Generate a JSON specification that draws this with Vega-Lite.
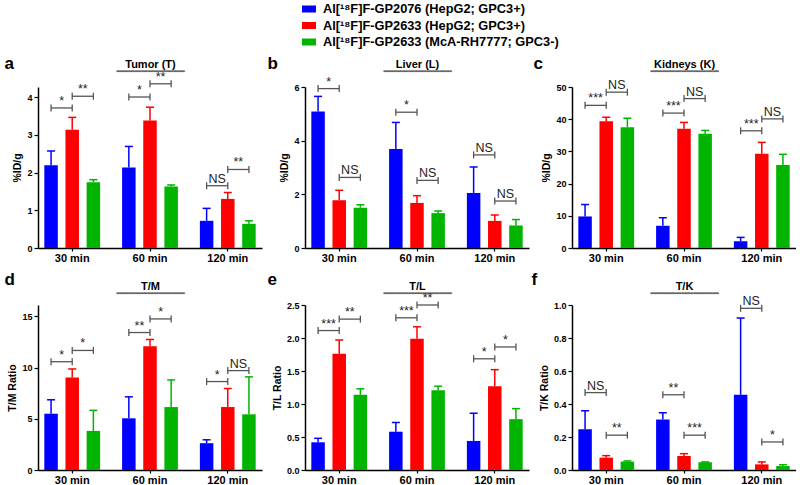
{
  "$schema": "https://vega.github.io/schema/vega-lite/v6.json",
  "padding": {"left": 4, "top": 2, "right": 0, "bottom": 0},
  "background": "white",
  "datasets": {
    "bars": [
      {"panel": "a", "time": "30 min", "series": "Al[¹⁸F]F-GP2076 (HepG2; GPC3+)", "mean": 2.19, "upper": 2.57},
      {"panel": "a", "time": "30 min", "series": "Al[¹⁸F]F-GP2633 (HepG2; GPC3+)", "mean": 3.13, "upper": 3.46},
      {"panel": "a", "time": "30 min", "series": "Al[¹⁸F]F-GP2633 (McA-RH7777; GPC3-)", "mean": 1.74, "upper": 1.81},
      {"panel": "a", "time": "60 min", "series": "Al[¹⁸F]F-GP2076 (HepG2; GPC3+)", "mean": 2.13, "upper": 2.69},
      {"panel": "a", "time": "60 min", "series": "Al[¹⁸F]F-GP2633 (HepG2; GPC3+)", "mean": 3.38, "upper": 3.73},
      {"panel": "a", "time": "60 min", "series": "Al[¹⁸F]F-GP2633 (McA-RH7777; GPC3-)", "mean": 1.63, "upper": 1.67},
      {"panel": "a", "time": "120 min", "series": "Al[¹⁸F]F-GP2076 (HepG2; GPC3+)", "mean": 0.72, "upper": 1.05},
      {"panel": "a", "time": "120 min", "series": "Al[¹⁸F]F-GP2633 (HepG2; GPC3+)", "mean": 1.30, "upper": 1.47},
      {"panel": "a", "time": "120 min", "series": "Al[¹⁸F]F-GP2633 (McA-RH7777; GPC3-)", "mean": 0.64, "upper": 0.72},
      {"panel": "b", "time": "30 min", "series": "Al[¹⁸F]F-GP2076 (HepG2; GPC3+)", "mean": 5.09, "upper": 5.65},
      {"panel": "b", "time": "30 min", "series": "Al[¹⁸F]F-GP2633 (HepG2; GPC3+)", "mean": 1.78, "upper": 2.15},
      {"panel": "b", "time": "30 min", "series": "Al[¹⁸F]F-GP2633 (McA-RH7777; GPC3-)", "mean": 1.50, "upper": 1.61},
      {"panel": "b", "time": "60 min", "series": "Al[¹⁸F]F-GP2076 (HepG2; GPC3+)", "mean": 3.69, "upper": 4.68},
      {"panel": "b", "time": "60 min", "series": "Al[¹⁸F]F-GP2633 (HepG2; GPC3+)", "mean": 1.68, "upper": 1.95},
      {"panel": "b", "time": "60 min", "series": "Al[¹⁸F]F-GP2633 (McA-RH7777; GPC3-)", "mean": 1.30, "upper": 1.38},
      {"panel": "b", "time": "120 min", "series": "Al[¹⁸F]F-GP2076 (HepG2; GPC3+)", "mean": 2.05, "upper": 3.02},
      {"panel": "b", "time": "120 min", "series": "Al[¹⁸F]F-GP2633 (HepG2; GPC3+)", "mean": 1.01, "upper": 1.23},
      {"panel": "b", "time": "120 min", "series": "Al[¹⁸F]F-GP2633 (McA-RH7777; GPC3-)", "mean": 0.84, "upper": 1.06},
      {"panel": "c", "time": "30 min", "series": "Al[¹⁸F]F-GP2076 (HepG2; GPC3+)", "mean": 9.8, "upper": 13.5},
      {"panel": "c", "time": "30 min", "series": "Al[¹⁸F]F-GP2633 (HepG2; GPC3+)", "mean": 39.4, "upper": 40.6},
      {"panel": "c", "time": "30 min", "series": "Al[¹⁸F]F-GP2633 (McA-RH7777; GPC3-)", "mean": 37.5, "upper": 40.3},
      {"panel": "c", "time": "60 min", "series": "Al[¹⁸F]F-GP2076 (HepG2; GPC3+)", "mean": 6.9, "upper": 9.4},
      {"panel": "c", "time": "60 min", "series": "Al[¹⁸F]F-GP2633 (HepG2; GPC3+)", "mean": 37.0, "upper": 39.0},
      {"panel": "c", "time": "60 min", "series": "Al[¹⁸F]F-GP2633 (McA-RH7777; GPC3-)", "mean": 35.5, "upper": 36.5},
      {"panel": "c", "time": "120 min", "series": "Al[¹⁸F]F-GP2076 (HepG2; GPC3+)", "mean": 2.1, "upper": 3.3},
      {"panel": "c", "time": "120 min", "series": "Al[¹⁸F]F-GP2633 (HepG2; GPC3+)", "mean": 29.3, "upper": 32.8},
      {"panel": "c", "time": "120 min", "series": "Al[¹⁸F]F-GP2633 (McA-RH7777; GPC3-)", "mean": 25.8, "upper": 29.1},
      {"panel": "d", "time": "30 min", "series": "Al[¹⁸F]F-GP2076 (HepG2; GPC3+)", "mean": 5.5, "upper": 6.86},
      {"panel": "d", "time": "30 min", "series": "Al[¹⁸F]F-GP2633 (HepG2; GPC3+)", "mean": 9.03, "upper": 9.87},
      {"panel": "d", "time": "30 min", "series": "Al[¹⁸F]F-GP2633 (McA-RH7777; GPC3-)", "mean": 3.82, "upper": 5.83},
      {"panel": "d", "time": "60 min", "series": "Al[¹⁸F]F-GP2076 (HepG2; GPC3+)", "mean": 5.05, "upper": 7.15},
      {"panel": "d", "time": "60 min", "series": "Al[¹⁸F]F-GP2633 (HepG2; GPC3+)", "mean": 12.1, "upper": 12.75},
      {"panel": "d", "time": "60 min", "series": "Al[¹⁸F]F-GP2633 (McA-RH7777; GPC3-)", "mean": 6.15, "upper": 8.8},
      {"panel": "d", "time": "120 min", "series": "Al[¹⁸F]F-GP2076 (HepG2; GPC3+)", "mean": 2.62, "upper": 2.95},
      {"panel": "d", "time": "120 min", "series": "Al[¹⁸F]F-GP2633 (HepG2; GPC3+)", "mean": 6.15, "upper": 7.96},
      {"panel": "d", "time": "120 min", "series": "Al[¹⁸F]F-GP2633 (McA-RH7777; GPC3-)", "mean": 5.44, "upper": 9.1},
      {"panel": "e", "time": "30 min", "series": "Al[¹⁸F]F-GP2076 (HepG2; GPC3+)", "mean": 0.42, "upper": 0.48},
      {"panel": "e", "time": "30 min", "series": "Al[¹⁸F]F-GP2633 (HepG2; GPC3+)", "mean": 1.76, "upper": 1.97},
      {"panel": "e", "time": "30 min", "series": "Al[¹⁸F]F-GP2633 (McA-RH7777; GPC3-)", "mean": 1.14, "upper": 1.23},
      {"panel": "e", "time": "60 min", "series": "Al[¹⁸F]F-GP2076 (HepG2; GPC3+)", "mean": 0.58, "upper": 0.72},
      {"panel": "e", "time": "60 min", "series": "Al[¹⁸F]F-GP2633 (HepG2; GPC3+)", "mean": 1.99, "upper": 2.17},
      {"panel": "e", "time": "60 min", "series": "Al[¹⁸F]F-GP2633 (McA-RH7777; GPC3-)", "mean": 1.21, "upper": 1.27},
      {"panel": "e", "time": "120 min", "series": "Al[¹⁸F]F-GP2076 (HepG2; GPC3+)", "mean": 0.44, "upper": 0.86},
      {"panel": "e", "time": "120 min", "series": "Al[¹⁸F]F-GP2633 (HepG2; GPC3+)", "mean": 1.27, "upper": 1.52},
      {"panel": "e", "time": "120 min", "series": "Al[¹⁸F]F-GP2633 (McA-RH7777; GPC3-)", "mean": 0.77, "upper": 0.93},
      {"panel": "f", "time": "30 min", "series": "Al[¹⁸F]F-GP2076 (HepG2; GPC3+)", "mean": 0.247, "upper": 0.359},
      {"panel": "f", "time": "30 min", "series": "Al[¹⁸F]F-GP2633 (HepG2; GPC3+)", "mean": 0.075, "upper": 0.087},
      {"panel": "f", "time": "30 min", "series": "Al[¹⁸F]F-GP2633 (McA-RH7777; GPC3-)", "mean": 0.051, "upper": 0.055},
      {"panel": "f", "time": "60 min", "series": "Al[¹⁸F]F-GP2076 (HepG2; GPC3+)", "mean": 0.306, "upper": 0.347},
      {"panel": "f", "time": "60 min", "series": "Al[¹⁸F]F-GP2633 (HepG2; GPC3+)", "mean": 0.085, "upper": 0.099},
      {"panel": "f", "time": "60 min", "series": "Al[¹⁸F]F-GP2633 (McA-RH7777; GPC3-)", "mean": 0.047, "upper": 0.049},
      {"panel": "f", "time": "120 min", "series": "Al[¹⁸F]F-GP2076 (HepG2; GPC3+)", "mean": 0.456, "upper": 0.921},
      {"panel": "f", "time": "120 min", "series": "Al[¹⁸F]F-GP2633 (HepG2; GPC3+)", "mean": 0.034, "upper": 0.049},
      {"panel": "f", "time": "120 min", "series": "Al[¹⁸F]F-GP2633 (McA-RH7777; GPC3-)", "mean": 0.024, "upper": 0.032}
    ],
    "brackets": [
      {"panel": "a", "time": "30 min", "from": "Al[¹⁸F]F-GP2076 (HepG2; GPC3+)", "to": "Al[¹⁸F]F-GP2633 (HepG2; GPC3+)", "mid": "m1", "y": 3.71, "label": "*"},
      {"panel": "a", "time": "30 min", "from": "Al[¹⁸F]F-GP2633 (HepG2; GPC3+)", "to": "Al[¹⁸F]F-GP2633 (McA-RH7777; GPC3-)", "mid": "m2", "y": 4.02, "label": "**"},
      {"panel": "a", "time": "60 min", "from": "Al[¹⁸F]F-GP2076 (HepG2; GPC3+)", "to": "Al[¹⁸F]F-GP2633 (HepG2; GPC3+)", "mid": "m1", "y": 4.0, "label": "*"},
      {"panel": "a", "time": "60 min", "from": "Al[¹⁸F]F-GP2633 (HepG2; GPC3+)", "to": "Al[¹⁸F]F-GP2633 (McA-RH7777; GPC3-)", "mid": "m2", "y": 4.35, "label": "**"},
      {"panel": "a", "time": "120 min", "from": "Al[¹⁸F]F-GP2076 (HepG2; GPC3+)", "to": "Al[¹⁸F]F-GP2633 (HepG2; GPC3+)", "mid": "m1", "y": 1.65, "label": "NS"},
      {"panel": "a", "time": "120 min", "from": "Al[¹⁸F]F-GP2633 (HepG2; GPC3+)", "to": "Al[¹⁸F]F-GP2633 (McA-RH7777; GPC3-)", "mid": "m2", "y": 2.08, "label": "**"},
      {"panel": "b", "time": "30 min", "from": "Al[¹⁸F]F-GP2076 (HepG2; GPC3+)", "to": "Al[¹⁸F]F-GP2633 (HepG2; GPC3+)", "mid": "m1", "y": 5.94, "label": "*"},
      {"panel": "b", "time": "30 min", "from": "Al[¹⁸F]F-GP2633 (HepG2; GPC3+)", "to": "Al[¹⁸F]F-GP2633 (McA-RH7777; GPC3-)", "mid": "m2", "y": 2.63, "label": "NS"},
      {"panel": "b", "time": "60 min", "from": "Al[¹⁸F]F-GP2076 (HepG2; GPC3+)", "to": "Al[¹⁸F]F-GP2633 (HepG2; GPC3+)", "mid": "m1", "y": 5.06, "label": "*"},
      {"panel": "b", "time": "60 min", "from": "Al[¹⁸F]F-GP2633 (HepG2; GPC3+)", "to": "Al[¹⁸F]F-GP2633 (McA-RH7777; GPC3-)", "mid": "m2", "y": 2.52, "label": "NS"},
      {"panel": "b", "time": "120 min", "from": "Al[¹⁸F]F-GP2076 (HepG2; GPC3+)", "to": "Al[¹⁸F]F-GP2633 (HepG2; GPC3+)", "mid": "m1", "y": 3.47, "label": "NS"},
      {"panel": "b", "time": "120 min", "from": "Al[¹⁸F]F-GP2633 (HepG2; GPC3+)", "to": "Al[¹⁸F]F-GP2633 (McA-RH7777; GPC3-)", "mid": "m2", "y": 1.75, "label": "NS"},
      {"panel": "c", "time": "30 min", "from": "Al[¹⁸F]F-GP2076 (HepG2; GPC3+)", "to": "Al[¹⁸F]F-GP2633 (HepG2; GPC3+)", "mid": "m1", "y": 44.3, "label": "***"},
      {"panel": "c", "time": "30 min", "from": "Al[¹⁸F]F-GP2633 (HepG2; GPC3+)", "to": "Al[¹⁸F]F-GP2633 (McA-RH7777; GPC3-)", "mid": "m2", "y": 48.4, "label": "NS"},
      {"panel": "c", "time": "60 min", "from": "Al[¹⁸F]F-GP2076 (HepG2; GPC3+)", "to": "Al[¹⁸F]F-GP2633 (HepG2; GPC3+)", "mid": "m1", "y": 41.9, "label": "***"},
      {"panel": "c", "time": "60 min", "from": "Al[¹⁸F]F-GP2633 (HepG2; GPC3+)", "to": "Al[¹⁸F]F-GP2633 (McA-RH7777; GPC3-)", "mid": "m2", "y": 46.4, "label": "NS"},
      {"panel": "c", "time": "120 min", "from": "Al[¹⁸F]F-GP2076 (HepG2; GPC3+)", "to": "Al[¹⁸F]F-GP2633 (HepG2; GPC3+)", "mid": "m1", "y": 36.4, "label": "***"},
      {"panel": "c", "time": "120 min", "from": "Al[¹⁸F]F-GP2633 (HepG2; GPC3+)", "to": "Al[¹⁸F]F-GP2633 (McA-RH7777; GPC3-)", "mid": "m2", "y": 40.1, "label": "NS"},
      {"panel": "d", "time": "30 min", "from": "Al[¹⁸F]F-GP2076 (HepG2; GPC3+)", "to": "Al[¹⁸F]F-GP2633 (HepG2; GPC3+)", "mid": "m1", "y": 10.58, "label": "*"},
      {"panel": "d", "time": "30 min", "from": "Al[¹⁸F]F-GP2633 (HepG2; GPC3+)", "to": "Al[¹⁸F]F-GP2633 (McA-RH7777; GPC3-)", "mid": "m2", "y": 11.68, "label": "*"},
      {"panel": "d", "time": "60 min", "from": "Al[¹⁸F]F-GP2076 (HepG2; GPC3+)", "to": "Al[¹⁸F]F-GP2633 (HepG2; GPC3+)", "mid": "m1", "y": 13.43, "label": "**"},
      {"panel": "d", "time": "60 min", "from": "Al[¹⁸F]F-GP2633 (HepG2; GPC3+)", "to": "Al[¹⁸F]F-GP2633 (McA-RH7777; GPC3-)", "mid": "m2", "y": 14.76, "label": "*"},
      {"panel": "d", "time": "120 min", "from": "Al[¹⁸F]F-GP2076 (HepG2; GPC3+)", "to": "Al[¹⁸F]F-GP2633 (HepG2; GPC3+)", "mid": "m1", "y": 8.64, "label": "*"},
      {"panel": "d", "time": "120 min", "from": "Al[¹⁸F]F-GP2633 (HepG2; GPC3+)", "to": "Al[¹⁸F]F-GP2633 (McA-RH7777; GPC3-)", "mid": "m2", "y": 9.71, "label": "NS"},
      {"panel": "e", "time": "30 min", "from": "Al[¹⁸F]F-GP2076 (HepG2; GPC3+)", "to": "Al[¹⁸F]F-GP2633 (HepG2; GPC3+)", "mid": "m1", "y": 2.113, "label": "***"},
      {"panel": "e", "time": "30 min", "from": "Al[¹⁸F]F-GP2633 (HepG2; GPC3+)", "to": "Al[¹⁸F]F-GP2633 (McA-RH7777; GPC3-)", "mid": "m2", "y": 2.286, "label": "**"},
      {"panel": "e", "time": "60 min", "from": "Al[¹⁸F]F-GP2076 (HepG2; GPC3+)", "to": "Al[¹⁸F]F-GP2633 (HepG2; GPC3+)", "mid": "m1", "y": 2.306, "label": "***"},
      {"panel": "e", "time": "60 min", "from": "Al[¹⁸F]F-GP2633 (HepG2; GPC3+)", "to": "Al[¹⁸F]F-GP2633 (McA-RH7777; GPC3-)", "mid": "m2", "y": 2.5, "label": "**"},
      {"panel": "e", "time": "120 min", "from": "Al[¹⁸F]F-GP2076 (HepG2; GPC3+)", "to": "Al[¹⁸F]F-GP2633 (HepG2; GPC3+)", "mid": "m1", "y": 1.685, "label": "*"},
      {"panel": "e", "time": "120 min", "from": "Al[¹⁸F]F-GP2633 (HepG2; GPC3+)", "to": "Al[¹⁸F]F-GP2633 (McA-RH7777; GPC3-)", "mid": "m2", "y": 1.864, "label": "*"},
      {"panel": "f", "time": "30 min", "from": "Al[¹⁸F]F-GP2076 (HepG2; GPC3+)", "to": "Al[¹⁸F]F-GP2633 (HepG2; GPC3+)", "mid": "m1", "y": 0.469, "label": "NS"},
      {"panel": "f", "time": "30 min", "from": "Al[¹⁸F]F-GP2633 (HepG2; GPC3+)", "to": "Al[¹⁸F]F-GP2633 (McA-RH7777; GPC3-)", "mid": "m2", "y": 0.211, "label": "**"},
      {"panel": "f", "time": "60 min", "from": "Al[¹⁸F]F-GP2076 (HepG2; GPC3+)", "to": "Al[¹⁸F]F-GP2633 (HepG2; GPC3+)", "mid": "m1", "y": 0.456, "label": "**"},
      {"panel": "f", "time": "60 min", "from": "Al[¹⁸F]F-GP2633 (HepG2; GPC3+)", "to": "Al[¹⁸F]F-GP2633 (McA-RH7777; GPC3-)", "mid": "m2", "y": 0.211, "label": "***"},
      {"panel": "f", "time": "120 min", "from": "Al[¹⁸F]F-GP2076 (HepG2; GPC3+)", "to": "Al[¹⁸F]F-GP2633 (HepG2; GPC3+)", "mid": "m1", "y": 0.98, "label": "NS"},
      {"panel": "f", "time": "120 min", "from": "Al[¹⁸F]F-GP2633 (HepG2; GPC3+)", "to": "Al[¹⁸F]F-GP2633 (McA-RH7777; GPC3-)", "mid": "m2", "y": 0.17, "label": "*"}
    ]
  },
  "vconcat": [
    {
      "bounds": "flush",
      "spacing": 43,
      "hconcat": [
        {
          "width": 224, "height": 161,
          "resolve": {"axis": {"x": "independent"}},
          "layer": [
            {"data": {"name": "bars"}, "transform": [{"filter": "datum.panel == 'a'"}],
             "mark": {"type": "bar", "width": 13.5},
             "encoding": {
               "x": {"field": "time", "type": "nominal", "scale": {"domain": ["30 min", "60 min", "120 min"], "paddingInner": 0.32, "paddingOuter": 0.1}, "axis": {"title": null}},
               "xOffset": {"field": "series", "type": "nominal", "scale": {"domain": ["Al[¹⁸F]F-GP2076 (HepG2; GPC3+)", "m1", "Al[¹⁸F]F-GP2633 (HepG2; GPC3+)", "m2", "Al[¹⁸F]F-GP2633 (McA-RH7777; GPC3-)"], "paddingInner": 0, "paddingOuter": 0}},
               "y": {"field": "mean", "type": "quantitative", "title": "%ID/g", "scale": {"domain": [0, 4.265], "nice": false}, "axis": {"values": [0, 1, 2, 3, 4], "tickCount": 10, "format": "d"}},
               "color": {"field": "series", "type": "nominal", "scale": {"domain": ["Al[¹⁸F]F-GP2076 (HepG2; GPC3+)", "Al[¹⁸F]F-GP2633 (HepG2; GPC3+)", "Al[¹⁸F]F-GP2633 (McA-RH7777; GPC3-)"], "range": ["#0000ff", "#ff0000", "#00b400"]},
                 "legend": {"orient": "none", "legendX": 264, "legendY": -85, "title": null, "padding": 0, "labelFont": "Liberation Sans", "labelFontWeight": "bold", "labelFontSize": 12.8, "labelColor": "#000000", "symbolType": "M-1,-0.5H1V0.5H-1Z", "symbolSize": 196, "symbolStrokeWidth": 0, "rowPadding": 2.5, "labelOffset": 7, "labelLimit": 400}}
             }},
            {"data": {"name": "bars"}, "transform": [{"filter": "datum.panel == 'a'"}],
             "mark": {"type": "rule", "strokeWidth": 1.5},
             "encoding": {
               "x": {"field": "time", "type": "nominal", "axis": {"orient": "top", "title": "a", "domain": false, "ticks": false, "labels": false, "titleX": -34, "titleY": -19, "titleAlign": "left", "titleBaseline": "alphabetic", "titleFontSize": 17}},
               "xOffset": {"field": "series", "type": "nominal"},
               "y": {"field": "mean", "type": "quantitative", "title": "%ID/g", "scale": {"domain": [0, 4.265], "nice": false}},
               "y2": {"field": "upper"},
               "stroke": {"field": "series", "type": "nominal", "scale": {"domain": ["Al[¹⁸F]F-GP2076 (HepG2; GPC3+)", "Al[¹⁸F]F-GP2633 (HepG2; GPC3+)", "Al[¹⁸F]F-GP2633 (McA-RH7777; GPC3-)"], "range": ["#0000ff", "#ff0000", "#00b400"]}, "legend": null}
             }},
            {"data": {"name": "bars"}, "transform": [{"filter": "datum.panel == 'a'"}],
             "mark": {"type": "point", "shape": "M-1,0H1", "size": 64, "strokeWidth": 1.5, "filled": false, "opacity": 1},
             "encoding": {
               "x": {"field": "time", "type": "nominal", "axis": {"orient": "top", "title": "Tumor (T)", "domain": false, "ticks": false, "labels": false, "titleX": 112, "titleY": -19.5, "titleAlign": "center", "titleBaseline": "alphabetic", "titleFontSize": 11}},
               "xOffset": {"field": "series", "type": "nominal"},
               "y": {"field": "upper", "type": "quantitative", "title": "%ID/g", "scale": {"domain": [0, 4.265], "nice": false}},
               "stroke": {"field": "series", "type": "nominal", "scale": {"domain": ["Al[¹⁸F]F-GP2076 (HepG2; GPC3+)", "Al[¹⁸F]F-GP2633 (HepG2; GPC3+)", "Al[¹⁸F]F-GP2633 (McA-RH7777; GPC3-)"], "range": ["#0000ff", "#ff0000", "#00b400"]}, "legend": null}
             }},
            {"data": {"name": "brackets"}, "transform": [{"filter": "datum.panel == 'a'"}, {"fold": ["from", "to"], "as": ["end", "series"]}],
             "mark": {"type": "line", "color": "#555555", "strokeWidth": 1.3},
             "encoding": {
               "x": {"field": "time", "type": "nominal", "axis": {"orient": "top", "title": "━━━━━━━━━━━", "domain": false, "ticks": false, "labels": false, "titleX": 112, "titleY": -12.4, "titleAlign": "center", "titleBaseline": "alphabetic", "titleFont": "DejaVu Sans", "titleFontWeight": "normal", "titleFontSize": 10.3, "titleColor": "#666666"}},
               "xOffset": {"field": "series", "type": "nominal"},
               "y": {"field": "y", "type": "quantitative", "title": "%ID/g", "scale": {"domain": [0, 4.265], "nice": false}},
               "detail": [{"field": "time"}, {"field": "mid"}]
             }},
            {"data": {"name": "brackets"}, "transform": [{"filter": "datum.panel == 'a'"}, {"fold": ["from", "to"], "as": ["end", "series"]}],
             "mark": {"type": "point", "shape": "M0,-1V1", "size": 49, "strokeWidth": 1.3, "color": "#555555", "filled": false, "opacity": 1},
             "encoding": {
               "x": {"field": "time", "type": "nominal", "axis": null},
               "xOffset": {"field": "series", "type": "nominal"},
               "y": {"field": "y", "type": "quantitative", "title": "%ID/g", "scale": {"domain": [0, 4.265], "nice": false}}
             }},
            {"data": {"name": "brackets"}, "transform": [{"filter": "datum.panel == 'a'"}],
             "mark": {"type": "text", "baseline": "alphabetic", "dy": -3, "fontSize": 12.5, "color": "#222222", "font": "Liberation Sans"},
             "encoding": {
               "x": {"field": "time", "type": "nominal", "axis": null},
               "xOffset": {"field": "mid", "type": "nominal"},
               "y": {"field": "y", "type": "quantitative", "title": "%ID/g", "scale": {"domain": [0, 4.265], "nice": false}},
               "text": {"field": "label"}
             }}
          ]
        },
        {
          "width": 224, "height": 161,
          "resolve": {"axis": {"x": "independent"}},
          "layer": [
            {"data": {"name": "bars"}, "transform": [{"filter": "datum.panel == 'b'"}],
             "mark": {"type": "bar", "width": 13.5},
             "encoding": {
               "x": {"field": "time", "type": "nominal", "scale": {"domain": ["30 min", "60 min", "120 min"], "paddingInner": 0.32, "paddingOuter": 0.1}, "axis": {"title": null}},
               "xOffset": {"field": "series", "type": "nominal", "scale": {"domain": ["Al[¹⁸F]F-GP2076 (HepG2; GPC3+)", "m1", "Al[¹⁸F]F-GP2633 (HepG2; GPC3+)", "m2", "Al[¹⁸F]F-GP2633 (McA-RH7777; GPC3-)"], "paddingInner": 0, "paddingOuter": 0}},
               "y": {"field": "mean", "type": "quantitative", "title": "%ID/g", "scale": {"domain": [0, 6], "nice": false}, "axis": {"values": [0, 2, 4, 6], "tickCount": 10, "format": "d"}},
               "color": {"field": "series", "type": "nominal", "scale": {"domain": ["Al[¹⁸F]F-GP2076 (HepG2; GPC3+)", "Al[¹⁸F]F-GP2633 (HepG2; GPC3+)", "Al[¹⁸F]F-GP2633 (McA-RH7777; GPC3-)"], "range": ["#0000ff", "#ff0000", "#00b400"]},
                 "legend": {"orient": "none", "legendX": 264, "legendY": -85, "title": null, "padding": 0, "labelFont": "Liberation Sans", "labelFontWeight": "bold", "labelFontSize": 12.8, "labelColor": "#000000", "symbolType": "M-1,-0.5H1V0.5H-1Z", "symbolSize": 196, "symbolStrokeWidth": 0, "rowPadding": 2.5, "labelOffset": 7, "labelLimit": 400}}
             }},
            {"data": {"name": "bars"}, "transform": [{"filter": "datum.panel == 'b'"}],
             "mark": {"type": "rule", "strokeWidth": 1.5},
             "encoding": {
               "x": {"field": "time", "type": "nominal", "axis": {"orient": "top", "title": "b", "domain": false, "ticks": false, "labels": false, "titleX": -38, "titleY": -19, "titleAlign": "left", "titleBaseline": "alphabetic", "titleFontSize": 17}},
               "xOffset": {"field": "series", "type": "nominal"},
               "y": {"field": "mean", "type": "quantitative", "title": "%ID/g", "scale": {"domain": [0, 6], "nice": false}},
               "y2": {"field": "upper"},
               "stroke": {"field": "series", "type": "nominal", "scale": {"domain": ["Al[¹⁸F]F-GP2076 (HepG2; GPC3+)", "Al[¹⁸F]F-GP2633 (HepG2; GPC3+)", "Al[¹⁸F]F-GP2633 (McA-RH7777; GPC3-)"], "range": ["#0000ff", "#ff0000", "#00b400"]}, "legend": null}
             }},
            {"data": {"name": "bars"}, "transform": [{"filter": "datum.panel == 'b'"}],
             "mark": {"type": "point", "shape": "M-1,0H1", "size": 64, "strokeWidth": 1.5, "filled": false, "opacity": 1},
             "encoding": {
               "x": {"field": "time", "type": "nominal", "axis": {"orient": "top", "title": "Liver (L)", "domain": false, "ticks": false, "labels": false, "titleX": 112, "titleY": -19.5, "titleAlign": "center", "titleBaseline": "alphabetic", "titleFontSize": 11}},
               "xOffset": {"field": "series", "type": "nominal"},
               "y": {"field": "upper", "type": "quantitative", "title": "%ID/g", "scale": {"domain": [0, 6], "nice": false}},
               "stroke": {"field": "series", "type": "nominal", "scale": {"domain": ["Al[¹⁸F]F-GP2076 (HepG2; GPC3+)", "Al[¹⁸F]F-GP2633 (HepG2; GPC3+)", "Al[¹⁸F]F-GP2633 (McA-RH7777; GPC3-)"], "range": ["#0000ff", "#ff0000", "#00b400"]}, "legend": null}
             }},
            {"data": {"name": "brackets"}, "transform": [{"filter": "datum.panel == 'b'"}, {"fold": ["from", "to"], "as": ["end", "series"]}],
             "mark": {"type": "line", "color": "#555555", "strokeWidth": 1.3},
             "encoding": {
               "x": {"field": "time", "type": "nominal", "axis": {"orient": "top", "title": "━━━━━━━━━━━", "domain": false, "ticks": false, "labels": false, "titleX": 112, "titleY": -12.4, "titleAlign": "center", "titleBaseline": "alphabetic", "titleFont": "DejaVu Sans", "titleFontWeight": "normal", "titleFontSize": 10.3, "titleColor": "#666666"}},
               "xOffset": {"field": "series", "type": "nominal"},
               "y": {"field": "y", "type": "quantitative", "title": "%ID/g", "scale": {"domain": [0, 6], "nice": false}},
               "detail": [{"field": "time"}, {"field": "mid"}]
             }},
            {"data": {"name": "brackets"}, "transform": [{"filter": "datum.panel == 'b'"}, {"fold": ["from", "to"], "as": ["end", "series"]}],
             "mark": {"type": "point", "shape": "M0,-1V1", "size": 49, "strokeWidth": 1.3, "color": "#555555", "filled": false, "opacity": 1},
             "encoding": {
               "x": {"field": "time", "type": "nominal", "axis": null},
               "xOffset": {"field": "series", "type": "nominal"},
               "y": {"field": "y", "type": "quantitative", "title": "%ID/g", "scale": {"domain": [0, 6], "nice": false}}
             }},
            {"data": {"name": "brackets"}, "transform": [{"filter": "datum.panel == 'b'"}],
             "mark": {"type": "text", "baseline": "alphabetic", "dy": -3, "fontSize": 12.5, "color": "#222222", "font": "Liberation Sans"},
             "encoding": {
               "x": {"field": "time", "type": "nominal", "axis": null},
               "xOffset": {"field": "mid", "type": "nominal"},
               "y": {"field": "y", "type": "quantitative", "title": "%ID/g", "scale": {"domain": [0, 6], "nice": false}},
               "text": {"field": "label"}
             }}
          ]
        },
        {
          "width": 224, "height": 161,
          "resolve": {"axis": {"x": "independent"}},
          "layer": [
            {"data": {"name": "bars"}, "transform": [{"filter": "datum.panel == 'c'"}],
             "mark": {"type": "bar", "width": 13.5},
             "encoding": {
               "x": {"field": "time", "type": "nominal", "scale": {"domain": ["30 min", "60 min", "120 min"], "paddingInner": 0.32, "paddingOuter": 0.1}, "axis": {"title": null}},
               "xOffset": {"field": "series", "type": "nominal", "scale": {"domain": ["Al[¹⁸F]F-GP2076 (HepG2; GPC3+)", "m1", "Al[¹⁸F]F-GP2633 (HepG2; GPC3+)", "m2", "Al[¹⁸F]F-GP2633 (McA-RH7777; GPC3-)"], "paddingInner": 0, "paddingOuter": 0}},
               "y": {"field": "mean", "type": "quantitative", "title": "%ID/g", "scale": {"domain": [0, 50], "nice": false}, "axis": {"values": [0, 10, 20, 30, 40, 50], "tickCount": 10, "format": "d"}},
               "color": {"field": "series", "type": "nominal", "scale": {"domain": ["Al[¹⁸F]F-GP2076 (HepG2; GPC3+)", "Al[¹⁸F]F-GP2633 (HepG2; GPC3+)", "Al[¹⁸F]F-GP2633 (McA-RH7777; GPC3-)"], "range": ["#0000ff", "#ff0000", "#00b400"]},
                 "legend": {"orient": "none", "legendX": 264, "legendY": -85, "title": null, "padding": 0, "labelFont": "Liberation Sans", "labelFontWeight": "bold", "labelFontSize": 12.8, "labelColor": "#000000", "symbolType": "M-1,-0.5H1V0.5H-1Z", "symbolSize": 196, "symbolStrokeWidth": 0, "rowPadding": 2.5, "labelOffset": 7, "labelLimit": 400}}
             }},
            {"data": {"name": "bars"}, "transform": [{"filter": "datum.panel == 'c'"}],
             "mark": {"type": "rule", "strokeWidth": 1.5},
             "encoding": {
               "x": {"field": "time", "type": "nominal", "axis": {"orient": "top", "title": "c", "domain": false, "ticks": false, "labels": false, "titleX": -39, "titleY": -19, "titleAlign": "left", "titleBaseline": "alphabetic", "titleFontSize": 17}},
               "xOffset": {"field": "series", "type": "nominal"},
               "y": {"field": "mean", "type": "quantitative", "title": "%ID/g", "scale": {"domain": [0, 50], "nice": false}},
               "y2": {"field": "upper"},
               "stroke": {"field": "series", "type": "nominal", "scale": {"domain": ["Al[¹⁸F]F-GP2076 (HepG2; GPC3+)", "Al[¹⁸F]F-GP2633 (HepG2; GPC3+)", "Al[¹⁸F]F-GP2633 (McA-RH7777; GPC3-)"], "range": ["#0000ff", "#ff0000", "#00b400"]}, "legend": null}
             }},
            {"data": {"name": "bars"}, "transform": [{"filter": "datum.panel == 'c'"}],
             "mark": {"type": "point", "shape": "M-1,0H1", "size": 64, "strokeWidth": 1.5, "filled": false, "opacity": 1},
             "encoding": {
               "x": {"field": "time", "type": "nominal", "axis": {"orient": "top", "title": "Kidneys (K)", "domain": false, "ticks": false, "labels": false, "titleX": 112, "titleY": -19.5, "titleAlign": "center", "titleBaseline": "alphabetic", "titleFontSize": 11}},
               "xOffset": {"field": "series", "type": "nominal"},
               "y": {"field": "upper", "type": "quantitative", "title": "%ID/g", "scale": {"domain": [0, 50], "nice": false}},
               "stroke": {"field": "series", "type": "nominal", "scale": {"domain": ["Al[¹⁸F]F-GP2076 (HepG2; GPC3+)", "Al[¹⁸F]F-GP2633 (HepG2; GPC3+)", "Al[¹⁸F]F-GP2633 (McA-RH7777; GPC3-)"], "range": ["#0000ff", "#ff0000", "#00b400"]}, "legend": null}
             }},
            {"data": {"name": "brackets"}, "transform": [{"filter": "datum.panel == 'c'"}, {"fold": ["from", "to"], "as": ["end", "series"]}],
             "mark": {"type": "line", "color": "#555555", "strokeWidth": 1.3},
             "encoding": {
               "x": {"field": "time", "type": "nominal", "axis": {"orient": "top", "title": "━━━━━━━━━━━", "domain": false, "ticks": false, "labels": false, "titleX": 112, "titleY": -12.4, "titleAlign": "center", "titleBaseline": "alphabetic", "titleFont": "DejaVu Sans", "titleFontWeight": "normal", "titleFontSize": 10.3, "titleColor": "#666666"}},
               "xOffset": {"field": "series", "type": "nominal"},
               "y": {"field": "y", "type": "quantitative", "title": "%ID/g", "scale": {"domain": [0, 50], "nice": false}},
               "detail": [{"field": "time"}, {"field": "mid"}]
             }},
            {"data": {"name": "brackets"}, "transform": [{"filter": "datum.panel == 'c'"}, {"fold": ["from", "to"], "as": ["end", "series"]}],
             "mark": {"type": "point", "shape": "M0,-1V1", "size": 49, "strokeWidth": 1.3, "color": "#555555", "filled": false, "opacity": 1},
             "encoding": {
               "x": {"field": "time", "type": "nominal", "axis": null},
               "xOffset": {"field": "series", "type": "nominal"},
               "y": {"field": "y", "type": "quantitative", "title": "%ID/g", "scale": {"domain": [0, 50], "nice": false}}
             }},
            {"data": {"name": "brackets"}, "transform": [{"filter": "datum.panel == 'c'"}],
             "mark": {"type": "text", "baseline": "alphabetic", "dy": -3, "fontSize": 12.5, "color": "#222222", "font": "Liberation Sans"},
             "encoding": {
               "x": {"field": "time", "type": "nominal", "axis": null},
               "xOffset": {"field": "mid", "type": "nominal"},
               "y": {"field": "y", "type": "quantitative", "title": "%ID/g", "scale": {"domain": [0, 50], "nice": false}},
               "text": {"field": "label"}
             }}
          ]
        }
      ]
    },
    {
      "bounds": "flush",
      "spacing": 43,
      "hconcat": [
        {
          "width": 224, "height": 165,
          "resolve": {"axis": {"x": "independent"}},
          "layer": [
            {"data": {"name": "bars"}, "transform": [{"filter": "datum.panel == 'd'"}],
             "mark": {"type": "bar", "width": 13.5},
             "encoding": {
               "x": {"field": "time", "type": "nominal", "scale": {"domain": ["30 min", "60 min", "120 min"], "paddingInner": 0.32, "paddingOuter": 0.1}, "axis": {"title": null}},
               "xOffset": {"field": "series", "type": "nominal", "scale": {"domain": ["Al[¹⁸F]F-GP2076 (HepG2; GPC3+)", "m1", "Al[¹⁸F]F-GP2633 (HepG2; GPC3+)", "m2", "Al[¹⁸F]F-GP2633 (McA-RH7777; GPC3-)"], "paddingInner": 0, "paddingOuter": 0}},
               "y": {"field": "mean", "type": "quantitative", "title": "T/M Ratio", "scale": {"domain": [0, 16.12], "nice": false}, "axis": {"values": [0, 5, 10, 15], "tickCount": 10, "format": "d"}},
               "color": {"field": "series", "type": "nominal", "scale": {"domain": ["Al[¹⁸F]F-GP2076 (HepG2; GPC3+)", "Al[¹⁸F]F-GP2633 (HepG2; GPC3+)", "Al[¹⁸F]F-GP2633 (McA-RH7777; GPC3-)"], "range": ["#0000ff", "#ff0000", "#00b400"]},
                 "legend": {"orient": "none", "legendX": 264, "legendY": -85, "title": null, "padding": 0, "labelFont": "Liberation Sans", "labelFontWeight": "bold", "labelFontSize": 12.8, "labelColor": "#000000", "symbolType": "M-1,-0.5H1V0.5H-1Z", "symbolSize": 196, "symbolStrokeWidth": 0, "rowPadding": 2.5, "labelOffset": 7, "labelLimit": 400}}
             }},
            {"data": {"name": "bars"}, "transform": [{"filter": "datum.panel == 'd'"}],
             "mark": {"type": "rule", "strokeWidth": 1.5},
             "encoding": {
               "x": {"field": "time", "type": "nominal", "axis": {"orient": "top", "title": "d", "domain": false, "ticks": false, "labels": false, "titleX": -34, "titleY": -21, "titleAlign": "left", "titleBaseline": "alphabetic", "titleFontSize": 17}},
               "xOffset": {"field": "series", "type": "nominal"},
               "y": {"field": "mean", "type": "quantitative", "title": "T/M Ratio", "scale": {"domain": [0, 16.12], "nice": false}},
               "y2": {"field": "upper"},
               "stroke": {"field": "series", "type": "nominal", "scale": {"domain": ["Al[¹⁸F]F-GP2076 (HepG2; GPC3+)", "Al[¹⁸F]F-GP2633 (HepG2; GPC3+)", "Al[¹⁸F]F-GP2633 (McA-RH7777; GPC3-)"], "range": ["#0000ff", "#ff0000", "#00b400"]}, "legend": null}
             }},
            {"data": {"name": "bars"}, "transform": [{"filter": "datum.panel == 'd'"}],
             "mark": {"type": "point", "shape": "M-1,0H1", "size": 64, "strokeWidth": 1.5, "filled": false, "opacity": 1},
             "encoding": {
               "x": {"field": "time", "type": "nominal", "axis": {"orient": "top", "title": "T/M", "domain": false, "ticks": false, "labels": false, "titleX": 112, "titleY": -16, "titleAlign": "center", "titleBaseline": "alphabetic", "titleFontSize": 11}},
               "xOffset": {"field": "series", "type": "nominal"},
               "y": {"field": "upper", "type": "quantitative", "title": "T/M Ratio", "scale": {"domain": [0, 16.12], "nice": false}},
               "stroke": {"field": "series", "type": "nominal", "scale": {"domain": ["Al[¹⁸F]F-GP2076 (HepG2; GPC3+)", "Al[¹⁸F]F-GP2633 (HepG2; GPC3+)", "Al[¹⁸F]F-GP2633 (McA-RH7777; GPC3-)"], "range": ["#0000ff", "#ff0000", "#00b400"]}, "legend": null}
             }},
            {"data": {"name": "brackets"}, "transform": [{"filter": "datum.panel == 'd'"}, {"fold": ["from", "to"], "as": ["end", "series"]}],
             "mark": {"type": "line", "color": "#555555", "strokeWidth": 1.3},
             "encoding": {
               "x": {"field": "time", "type": "nominal", "axis": {"orient": "top", "title": "━━━━━━━━━━━", "domain": false, "ticks": false, "labels": false, "titleX": 112, "titleY": -8.7, "titleAlign": "center", "titleBaseline": "alphabetic", "titleFont": "DejaVu Sans", "titleFontWeight": "normal", "titleFontSize": 10.3, "titleColor": "#666666"}},
               "xOffset": {"field": "series", "type": "nominal"},
               "y": {"field": "y", "type": "quantitative", "title": "T/M Ratio", "scale": {"domain": [0, 16.12], "nice": false}},
               "detail": [{"field": "time"}, {"field": "mid"}]
             }},
            {"data": {"name": "brackets"}, "transform": [{"filter": "datum.panel == 'd'"}, {"fold": ["from", "to"], "as": ["end", "series"]}],
             "mark": {"type": "point", "shape": "M0,-1V1", "size": 49, "strokeWidth": 1.3, "color": "#555555", "filled": false, "opacity": 1},
             "encoding": {
               "x": {"field": "time", "type": "nominal", "axis": null},
               "xOffset": {"field": "series", "type": "nominal"},
               "y": {"field": "y", "type": "quantitative", "title": "T/M Ratio", "scale": {"domain": [0, 16.12], "nice": false}}
             }},
            {"data": {"name": "brackets"}, "transform": [{"filter": "datum.panel == 'd'"}],
             "mark": {"type": "text", "baseline": "alphabetic", "dy": -3, "fontSize": 12.5, "color": "#222222", "font": "Liberation Sans"},
             "encoding": {
               "x": {"field": "time", "type": "nominal", "axis": null},
               "xOffset": {"field": "mid", "type": "nominal"},
               "y": {"field": "y", "type": "quantitative", "title": "T/M Ratio", "scale": {"domain": [0, 16.12], "nice": false}},
               "text": {"field": "label"}
             }}
          ]
        },
        {
          "width": 224, "height": 165,
          "resolve": {"axis": {"x": "independent"}},
          "layer": [
            {"data": {"name": "bars"}, "transform": [{"filter": "datum.panel == 'e'"}],
             "mark": {"type": "bar", "width": 13.5},
             "encoding": {
               "x": {"field": "time", "type": "nominal", "scale": {"domain": ["30 min", "60 min", "120 min"], "paddingInner": 0.32, "paddingOuter": 0.1}, "axis": {"title": null}},
               "xOffset": {"field": "series", "type": "nominal", "scale": {"domain": ["Al[¹⁸F]F-GP2076 (HepG2; GPC3+)", "m1", "Al[¹⁸F]F-GP2633 (HepG2; GPC3+)", "m2", "Al[¹⁸F]F-GP2633 (McA-RH7777; GPC3-)"], "paddingInner": 0, "paddingOuter": 0}},
               "y": {"field": "mean", "type": "quantitative", "title": "T/L Ratio", "scale": {"domain": [0, 2.5], "nice": false}, "axis": {"values": [0, 0.5, 1, 1.5, 2, 2.5], "format": ".1f", "tickCount": 10}},
               "color": {"field": "series", "type": "nominal", "scale": {"domain": ["Al[¹⁸F]F-GP2076 (HepG2; GPC3+)", "Al[¹⁸F]F-GP2633 (HepG2; GPC3+)", "Al[¹⁸F]F-GP2633 (McA-RH7777; GPC3-)"], "range": ["#0000ff", "#ff0000", "#00b400"]},
                 "legend": {"orient": "none", "legendX": 264, "legendY": -85, "title": null, "padding": 0, "labelFont": "Liberation Sans", "labelFontWeight": "bold", "labelFontSize": 12.8, "labelColor": "#000000", "symbolType": "M-1,-0.5H1V0.5H-1Z", "symbolSize": 196, "symbolStrokeWidth": 0, "rowPadding": 2.5, "labelOffset": 7, "labelLimit": 400}}
             }},
            {"data": {"name": "bars"}, "transform": [{"filter": "datum.panel == 'e'"}],
             "mark": {"type": "rule", "strokeWidth": 1.5},
             "encoding": {
               "x": {"field": "time", "type": "nominal", "axis": {"orient": "top", "title": "e", "domain": false, "ticks": false, "labels": false, "titleX": -38, "titleY": -21, "titleAlign": "left", "titleBaseline": "alphabetic", "titleFontSize": 17}},
               "xOffset": {"field": "series", "type": "nominal"},
               "y": {"field": "mean", "type": "quantitative", "title": "T/L Ratio", "scale": {"domain": [0, 2.5], "nice": false}},
               "y2": {"field": "upper"},
               "stroke": {"field": "series", "type": "nominal", "scale": {"domain": ["Al[¹⁸F]F-GP2076 (HepG2; GPC3+)", "Al[¹⁸F]F-GP2633 (HepG2; GPC3+)", "Al[¹⁸F]F-GP2633 (McA-RH7777; GPC3-)"], "range": ["#0000ff", "#ff0000", "#00b400"]}, "legend": null}
             }},
            {"data": {"name": "bars"}, "transform": [{"filter": "datum.panel == 'e'"}],
             "mark": {"type": "point", "shape": "M-1,0H1", "size": 64, "strokeWidth": 1.5, "filled": false, "opacity": 1},
             "encoding": {
               "x": {"field": "time", "type": "nominal", "axis": {"orient": "top", "title": "T/L", "domain": false, "ticks": false, "labels": false, "titleX": 112, "titleY": -16, "titleAlign": "center", "titleBaseline": "alphabetic", "titleFontSize": 11}},
               "xOffset": {"field": "series", "type": "nominal"},
               "y": {"field": "upper", "type": "quantitative", "title": "T/L Ratio", "scale": {"domain": [0, 2.5], "nice": false}},
               "stroke": {"field": "series", "type": "nominal", "scale": {"domain": ["Al[¹⁸F]F-GP2076 (HepG2; GPC3+)", "Al[¹⁸F]F-GP2633 (HepG2; GPC3+)", "Al[¹⁸F]F-GP2633 (McA-RH7777; GPC3-)"], "range": ["#0000ff", "#ff0000", "#00b400"]}, "legend": null}
             }},
            {"data": {"name": "brackets"}, "transform": [{"filter": "datum.panel == 'e'"}, {"fold": ["from", "to"], "as": ["end", "series"]}],
             "mark": {"type": "line", "color": "#555555", "strokeWidth": 1.3},
             "encoding": {
               "x": {"field": "time", "type": "nominal", "axis": {"orient": "top", "title": "━━━━━━━━━━━", "domain": false, "ticks": false, "labels": false, "titleX": 112, "titleY": -8.7, "titleAlign": "center", "titleBaseline": "alphabetic", "titleFont": "DejaVu Sans", "titleFontWeight": "normal", "titleFontSize": 10.3, "titleColor": "#666666"}},
               "xOffset": {"field": "series", "type": "nominal"},
               "y": {"field": "y", "type": "quantitative", "title": "T/L Ratio", "scale": {"domain": [0, 2.5], "nice": false}},
               "detail": [{"field": "time"}, {"field": "mid"}]
             }},
            {"data": {"name": "brackets"}, "transform": [{"filter": "datum.panel == 'e'"}, {"fold": ["from", "to"], "as": ["end", "series"]}],
             "mark": {"type": "point", "shape": "M0,-1V1", "size": 49, "strokeWidth": 1.3, "color": "#555555", "filled": false, "opacity": 1},
             "encoding": {
               "x": {"field": "time", "type": "nominal", "axis": null},
               "xOffset": {"field": "series", "type": "nominal"},
               "y": {"field": "y", "type": "quantitative", "title": "T/L Ratio", "scale": {"domain": [0, 2.5], "nice": false}}
             }},
            {"data": {"name": "brackets"}, "transform": [{"filter": "datum.panel == 'e'"}],
             "mark": {"type": "text", "baseline": "alphabetic", "dy": -3, "fontSize": 12.5, "color": "#222222", "font": "Liberation Sans"},
             "encoding": {
               "x": {"field": "time", "type": "nominal", "axis": null},
               "xOffset": {"field": "mid", "type": "nominal"},
               "y": {"field": "y", "type": "quantitative", "title": "T/L Ratio", "scale": {"domain": [0, 2.5], "nice": false}},
               "text": {"field": "label"}
             }}
          ]
        },
        {
          "width": 224, "height": 165,
          "resolve": {"axis": {"x": "independent"}},
          "layer": [
            {"data": {"name": "bars"}, "transform": [{"filter": "datum.panel == 'f'"}],
             "mark": {"type": "bar", "width": 13.5},
             "encoding": {
               "x": {"field": "time", "type": "nominal", "scale": {"domain": ["30 min", "60 min", "120 min"], "paddingInner": 0.32, "paddingOuter": 0.1}, "axis": {"title": null}},
               "xOffset": {"field": "series", "type": "nominal", "scale": {"domain": ["Al[¹⁸F]F-GP2076 (HepG2; GPC3+)", "m1", "Al[¹⁸F]F-GP2633 (HepG2; GPC3+)", "m2", "Al[¹⁸F]F-GP2633 (McA-RH7777; GPC3-)"], "paddingInner": 0, "paddingOuter": 0}},
               "y": {"field": "mean", "type": "quantitative", "title": "T/K Ratio", "scale": {"domain": [0, 1], "nice": false}, "axis": {"values": [0, 0.2, 0.4, 0.6, 0.8, 1], "format": ".1f", "tickCount": 10}},
               "color": {"field": "series", "type": "nominal", "scale": {"domain": ["Al[¹⁸F]F-GP2076 (HepG2; GPC3+)", "Al[¹⁸F]F-GP2633 (HepG2; GPC3+)", "Al[¹⁸F]F-GP2633 (McA-RH7777; GPC3-)"], "range": ["#0000ff", "#ff0000", "#00b400"]},
                 "legend": {"orient": "none", "legendX": 264, "legendY": -85, "title": null, "padding": 0, "labelFont": "Liberation Sans", "labelFontWeight": "bold", "labelFontSize": 12.8, "labelColor": "#000000", "symbolType": "M-1,-0.5H1V0.5H-1Z", "symbolSize": 196, "symbolStrokeWidth": 0, "rowPadding": 2.5, "labelOffset": 7, "labelLimit": 400}}
             }},
            {"data": {"name": "bars"}, "transform": [{"filter": "datum.panel == 'f'"}],
             "mark": {"type": "rule", "strokeWidth": 1.5},
             "encoding": {
               "x": {"field": "time", "type": "nominal", "axis": {"orient": "top", "title": "f", "domain": false, "ticks": false, "labels": false, "titleX": -41, "titleY": -21, "titleAlign": "left", "titleBaseline": "alphabetic", "titleFontSize": 17}},
               "xOffset": {"field": "series", "type": "nominal"},
               "y": {"field": "mean", "type": "quantitative", "title": "T/K Ratio", "scale": {"domain": [0, 1], "nice": false}},
               "y2": {"field": "upper"},
               "stroke": {"field": "series", "type": "nominal", "scale": {"domain": ["Al[¹⁸F]F-GP2076 (HepG2; GPC3+)", "Al[¹⁸F]F-GP2633 (HepG2; GPC3+)", "Al[¹⁸F]F-GP2633 (McA-RH7777; GPC3-)"], "range": ["#0000ff", "#ff0000", "#00b400"]}, "legend": null}
             }},
            {"data": {"name": "bars"}, "transform": [{"filter": "datum.panel == 'f'"}],
             "mark": {"type": "point", "shape": "M-1,0H1", "size": 64, "strokeWidth": 1.5, "filled": false, "opacity": 1},
             "encoding": {
               "x": {"field": "time", "type": "nominal", "axis": {"orient": "top", "title": "T/K", "domain": false, "ticks": false, "labels": false, "titleX": 112, "titleY": -16, "titleAlign": "center", "titleBaseline": "alphabetic", "titleFontSize": 11}},
               "xOffset": {"field": "series", "type": "nominal"},
               "y": {"field": "upper", "type": "quantitative", "title": "T/K Ratio", "scale": {"domain": [0, 1], "nice": false}},
               "stroke": {"field": "series", "type": "nominal", "scale": {"domain": ["Al[¹⁸F]F-GP2076 (HepG2; GPC3+)", "Al[¹⁸F]F-GP2633 (HepG2; GPC3+)", "Al[¹⁸F]F-GP2633 (McA-RH7777; GPC3-)"], "range": ["#0000ff", "#ff0000", "#00b400"]}, "legend": null}
             }},
            {"data": {"name": "brackets"}, "transform": [{"filter": "datum.panel == 'f'"}, {"fold": ["from", "to"], "as": ["end", "series"]}],
             "mark": {"type": "line", "color": "#555555", "strokeWidth": 1.3},
             "encoding": {
               "x": {"field": "time", "type": "nominal", "axis": {"orient": "top", "title": "━━━━━━━━━━━", "domain": false, "ticks": false, "labels": false, "titleX": 112, "titleY": -8.7, "titleAlign": "center", "titleBaseline": "alphabetic", "titleFont": "DejaVu Sans", "titleFontWeight": "normal", "titleFontSize": 10.3, "titleColor": "#666666"}},
               "xOffset": {"field": "series", "type": "nominal"},
               "y": {"field": "y", "type": "quantitative", "title": "T/K Ratio", "scale": {"domain": [0, 1], "nice": false}},
               "detail": [{"field": "time"}, {"field": "mid"}]
             }},
            {"data": {"name": "brackets"}, "transform": [{"filter": "datum.panel == 'f'"}, {"fold": ["from", "to"], "as": ["end", "series"]}],
             "mark": {"type": "point", "shape": "M0,-1V1", "size": 49, "strokeWidth": 1.3, "color": "#555555", "filled": false, "opacity": 1},
             "encoding": {
               "x": {"field": "time", "type": "nominal", "axis": null},
               "xOffset": {"field": "series", "type": "nominal"},
               "y": {"field": "y", "type": "quantitative", "title": "T/K Ratio", "scale": {"domain": [0, 1], "nice": false}}
             }},
            {"data": {"name": "brackets"}, "transform": [{"filter": "datum.panel == 'f'"}],
             "mark": {"type": "text", "baseline": "alphabetic", "dy": -3, "fontSize": 12.5, "color": "#222222", "font": "Liberation Sans"},
             "encoding": {
               "x": {"field": "time", "type": "nominal", "axis": null},
               "xOffset": {"field": "mid", "type": "nominal"},
               "y": {"field": "y", "type": "quantitative", "title": "T/K Ratio", "scale": {"domain": [0, 1], "nice": false}},
               "text": {"field": "label"}
             }}
          ]
        }
      ]
    }
  ],
  "spacing": 7,
  "config": {
    "view": {"stroke": null},
    "font": "Liberation Sans",
    "axis": {"grid": false, "domainColor": "#000000", "domainWidth": 1.5, "tickColor": "#000000", "tickWidth": 1.2, "tickSize": 4, "labelFont": "Liberation Sans", "labelFontWeight": "bold", "labelColor": "#000000", "titleFont": "Liberation Sans", "titleFontWeight": "bold", "titleColor": "#000000"},
    "axisX": {"labelFontSize": 11, "labelAngle": 0, "labelPadding": 1, "tickSize": 3},
    "axisY": {"labelFontSize": 9, "titleFontSize": 10.5, "labelPadding": 2, "titlePadding": 4, "labelOverlap": false}
  }
}
